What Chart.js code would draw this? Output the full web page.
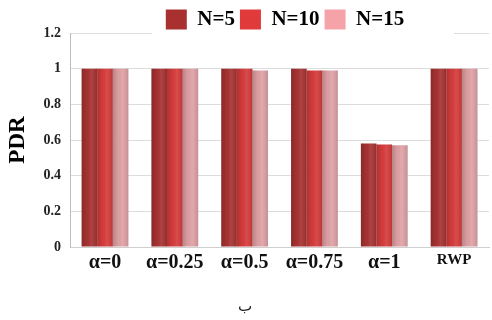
<!DOCTYPE html>
<html>
<head>
<meta charset="utf-8">
<script src="https://cdn.jsdelivr.net/npm/chart.js@4.4.0/dist/chart.umd.min.js"></script>
<style>
  html, body { margin: 0; padding: 0; background: #fff; }
  #wrap { width: 492px; height: 320px; }
</style>
</head>
<body>
<div id="wrap"><canvas id="pdrChart"></canvas></div>
<script>
// --- data ---
const categories = ["α=0", "α=0.25", "α=0.5", "α=0.75", "α=1", "RWP"];
const seriesNames = ["N=5", "N=10", "N=15"];
const pdrN5  = [1, 1, 1, 1, 0.58, 1];
const pdrN10 = [1, 1, 1, 0.99, 0.575, 1];
const pdrN15 = [1, 1, 0.99, 0.99, 0.57, 1];

const barColors = ["#a83232", "#d63c3c", "#e0a2a6"];
const legendColors = ["#a8302f", "#e03a3a", "#f5a3a8"];
const SERIF = "'Liberation Serif', 'DejaVu Serif', serif";

// legend sits right of centre, with a white box hiding the top grid line
const legendBack = {
  id: "legendBack",
  afterLayout(chart) {
    const lg = chart.legend;
    lg.left += 40;
    lg.right += 40;
    lg.top += 7;
    lg.bottom += 7;
  },
  beforeDatasetsDraw(chart) {
    const ctx = chart.ctx;
    const top = chart.chartArea.top;
    ctx.save();
    ctx.fillStyle = "#fff";
    ctx.fillRect(152, top - 3, 302, 6);
    ctx.restore();
  }
};

// simple shading so bars look like the original's rounded columns
const barShade = {
  id: "barShade",
  afterDatasetsDraw(chart) {
    const ctx = chart.ctx;
    chart.data.datasets.forEach((ds, i) => {
      chart.getDatasetMeta(i).data.forEach(bar => {
        const l = bar.x - bar.width / 2, r = bar.x + bar.width / 2;
        const g = ctx.createLinearGradient(l, 0, r, 0);
        g.addColorStop(0, "rgba(0,0,0,0.18)");
        g.addColorStop(0.35, "rgba(0,0,0,0.02)");
        g.addColorStop(0.6, "rgba(255,255,255,0.08)");
        g.addColorStop(1, "rgba(0,0,0,0.12)");
        ctx.save();
        ctx.fillStyle = g;
        ctx.fillRect(l, bar.y, bar.width, bar.base - bar.y);
        ctx.restore();
      });
    });
  }
};

new Chart(document.getElementById("pdrChart"), {
  type: "bar",
  data: {
    labels: categories,
    datasets: [pdrN5, pdrN10, pdrN15].map((vals, i) => ({
      label: seriesNames[i],
      data: vals,
      backgroundColor: barColors[i],
      borderWidth: 0,
      categoryPercentage: 0.67,
      barPercentage: 1.0
    }))
  },
  options: {
    responsive: true,
    maintainAspectRatio: false,
    animation: false,
    layout: { padding: { left: 1, right: 3, top: -3, bottom: 2 } },
    plugins: {
      legend: {
        position: "top",
        labels: {
          boxWidth: 21,
          boxHeight: 20,
          padding: 5,
          color: "#111",
          font: { family: SERIF, size: 21, weight: "bold" },
          generateLabels: chart => seriesNames.map((n, i) => ({
            text: n,
            fillStyle: legendColors[i],
            strokeStyle: legendColors[i],
            lineWidth: 0,
            datasetIndex: i
          }))
        }
      },
      title: {
        display: true,
        position: "bottom",
        text: "ب",
        color: "#222",
        font: { family: "'DejaVu Sans', sans-serif", size: 15, weight: "normal" },
        padding: { top: 27, bottom: 2 }
      },
      tooltip: { enabled: false }
    },
    scales: {
      x: {
        grid: { display: false },
        border: { color: "#cfcfcf" },
        ticks: {
          color: "#111",
          padding: -4,
          maxRotation: 0,
          font: ctx => ctx.index === 5
            ? { family: SERIF, size: 15, weight: "bold" }
            : { family: SERIF, size: 20, weight: "bold" }
        }
      },
      y: {
        min: 0,
        max: 1.2,
        ticks: {
          stepSize: 0.2,
          color: "#222",
          padding: 9,
          font: { family: SERIF, size: 14, weight: "bold" },
          callback: v => String(+v.toFixed(1))
        },
        grid: { color: "#dcdcdc", drawTicks: false },
        border: { color: "#bdbdbd" },
        title: {
          display: true,
          text: "PDR",
          color: "#000",
          padding: 3,
          font: { family: SERIF, size: 23, weight: "bold" }
        }
      }
    }
  },
  plugins: [legendBack, barShade]
});
</script>
</body>
</html>
